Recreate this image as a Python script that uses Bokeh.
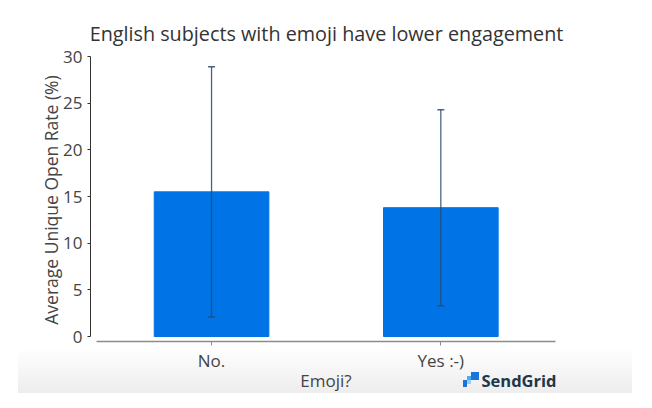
from bokeh.plotting import figure
from bokeh.models import (ColumnDataSource, Whisker, TeeHead, FixedTicker, Range1d,
                          Label, InlineStyleSheet)
from bokeh.embed import file_html
from bokeh.resources import INLINE

title_text = "English subjects with emoji have lower engagement"
categories = ["No.", "Yes :-)"]
mean_open_rate = [15.5, 13.8]
std_open_rate = [13.4, 10.5]
y_ticks = [0, 5, 10, 15, 20, 25, 30]

xs = list(range(len(categories)))
upper = [m + s for m, s in zip(mean_open_rate, std_open_rate)]
lower = [m - s for m, s in zip(mean_open_rate, std_open_rate)]
src = ColumnDataSource(dict(x=xs, top=mean_open_rate, upper=upper, lower=lower))

FONT = "Open Sans"
css = """
:host {
  background-image:
    linear-gradient(#1A74DC,#1A74DC),
    linear-gradient(#48B0F2,#48B0F2),
    linear-gradient(#8FD0F7,#8FD0F7),
    linear-gradient(#1A74DC,#1A74DC),
    linear-gradient(to bottom, #ffffff, #ededed);
  background-repeat: no-repeat;
  background-position: 471px 372px, 467px 376px, 467px 380px, 463px 380px, 18px 348px;
  background-size: 8px 8px, 4px 4px, 4px 4px, 4px 7px, 614px 45px;
}
"""
p = figure(width=640, height=400, output_backend="svg", toolbar_location=None,
           x_range=Range1d(-0.528, 1.836), y_range=Range1d(-6.0, 35.25),
           min_border_left=90, min_border_right=8, min_border_top=7, min_border_bottom=8,
           stylesheets=[InlineStyleSheet(css=css)])
p.outline_line_color = None
p.grid.visible = False
p.background_fill_color = None
p.border_fill_color = None

p.add_layout(Label(x=326, y=33, x_units="canvas", y_units="canvas", text=title_text,
                   text_font=FONT, text_font_size="19.8px", text_color="#333333",
                   text_baseline="middle", text_align="center"))

p.vbar(x="x", top="top", width=0.5, bottom=0, source=src,
       fill_color="#0073E6", line_color="#0073E6")

wh = Whisker(base="x", upper="upper", lower="lower", source=src, dimension="height",
             line_color="#2a4a6a", line_alpha=0.85, line_width=1.3, level="annotation")
wh.upper_head = TeeHead(size=7, line_color="#2a4a6a", line_alpha=0.85, line_width=1.5)
wh.lower_head = TeeHead(size=7, line_color="#2a4a6a", line_alpha=0.85, line_width=1.5)
p.add_layout(wh)

ya = p.yaxis[0]
ya.ticker = FixedTicker(ticks=y_ticks)
ya.bounds = (0, 30)
ya.axis_label = "Average Unique Open Rate (%)"
ya.axis_label_text_font = FONT
ya.axis_label_text_font_size = "17.5px"
ya.axis_label_text_font_style = "normal"
ya.axis_label_text_color = "#444444"
ya.axis_label_standoff = -3
ya.major_label_text_font = FONT
ya.major_label_text_font_size = "17px"
ya.major_label_text_color = "#444444"
ya.axis_line_color = "#333333"
ya.major_tick_line_color = "#333333"
ya.major_tick_out = 3
ya.major_tick_in = 0
ya.minor_tick_line_color = None
ya.major_label_standoff = 5

xa = p.xaxis[0]
xa.fixed_location = -0.5
xa.ticker = FixedTicker(ticks=xs)
xa.major_label_overrides = {i: c for i, c in zip(xs, categories)}
xa.bounds = (-0.5, 1.5)
xa.axis_label = "Emoji?"
xa.axis_label_text_font = FONT
xa.axis_label_text_font_size = "17px"
xa.axis_label_text_font_style = "normal"
xa.axis_label_text_color = "#444444"
xa.axis_label_standoff = -7
xa.major_label_text_font = FONT
xa.major_label_text_font_size = "17px"
xa.major_label_text_color = "#444444"
xa.axis_line_color = "#8c8c8c"
xa.axis_line_width = 1.5
xa.major_tick_line_color = "#8c8c8c"
xa.major_tick_out = 4
xa.major_tick_in = 0
xa.minor_tick_line_color = None
xa.major_label_standoff = 4

p.add_layout(Label(x=481, y=380, x_units="canvas", y_units="canvas", text="SendGrid",
                   text_font=FONT, text_font_size="16.5px", text_font_style="bold",
                   text_color="#22364a", text_baseline="middle", text_align="left"))

open("out.html", "w").write(file_html(p, INLINE))
